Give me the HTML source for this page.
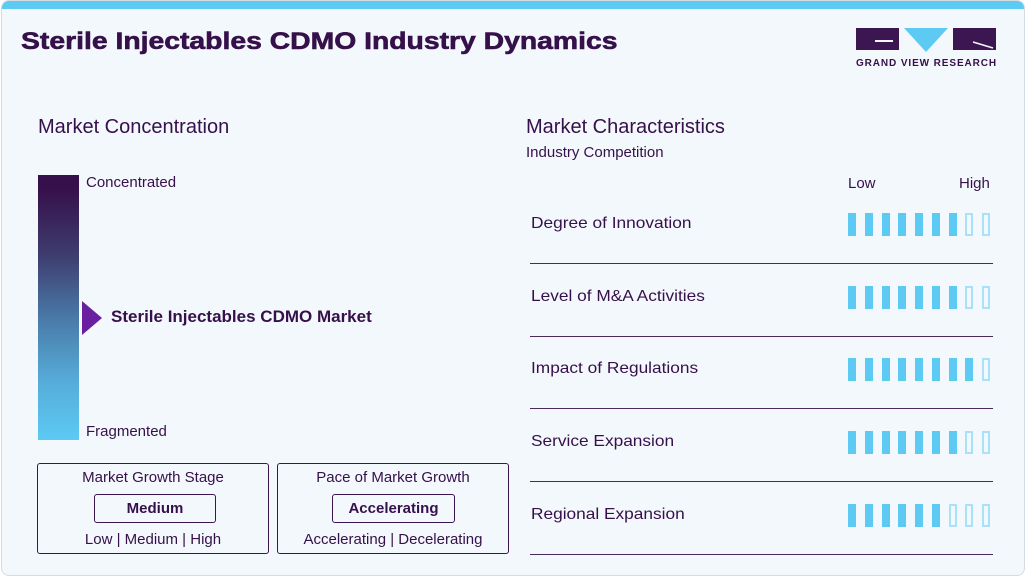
<!DOCTYPE html>
<html><head><style>
body{margin:0;width:1025px;height:576px;background:#fff;font-family:"Liberation Sans",sans-serif;overflow:hidden}
.card{position:absolute;left:1px;top:0;width:1022px;height:574px;background:#f3f8fc;border:1px solid #d5dde3;border-radius:8px;overflow:hidden}
.topbar{position:absolute;left:0;top:0;width:100%;height:8px;background:#5ccaf3}
.t{position:absolute;color:#36104a;white-space:nowrap}
.bar{position:absolute;width:8px;height:23px;box-sizing:border-box}
.f{background:#5ccaf3}
.e{border:2px solid #a9e2f8;background:#f3f8fc}
.sep{position:absolute;left:530px;width:463px;height:1px;background:#4a2a5a}
.box{position:absolute;border:1.5px solid #3b1650;border-radius:3px;box-sizing:border-box}
</style></head><body>
<div class="card"><div class="topbar"></div></div>
<div class="t" style="left:21px;top:28px;font-size:24px;font-weight:bold;color:#36104a;transform:scaleX(1.18);transform-origin:left;-webkit-text-stroke:0.6px #36104a">Sterile Injectables CDMO Industry Dynamics</div>
<!-- logo -->
<div style="position:absolute;left:856px;top:28px;width:43px;height:22px;background:#3b1650"></div>
<div style="position:absolute;left:875px;top:40px;width:18px;height:2px;background:#f3f8fc"></div>
<svg style="position:absolute;left:904px;top:28px" width="44" height="24"><polygon points="0,0 44,0 22,24" fill="#5ccaf3"/></svg>
<div style="position:absolute;left:953px;top:28px;width:43px;height:22px;background:#3b1650"></div>
<svg style="position:absolute;left:953px;top:28px" width="43" height="22"><line x1="20" y1="14" x2="40" y2="20" stroke="#f3f8fc" stroke-width="1.5"/></svg>
<div class="t" style="left:856px;top:58px;font-size:10px;font-weight:bold;letter-spacing:0.9px">GRAND VIEW RESEARCH</div>

<div class="t" style="left:38px;top:116px;font-size:20px">Market Concentration</div>
<div style="position:absolute;left:38px;top:175px;width:41px;height:265px;background:linear-gradient(#36104a 0%,#36104a 5%,#3e3c6e 30%,#4a7caa 55%,#56acd9 78%,#5ccaf3 100%)"></div>
<svg style="position:absolute;left:82px;top:301px" width="20" height="34"><polygon points="0,0 20,17 0,34" fill="#6a1fa0"/></svg>
<div class="t" style="left:86px;top:174px;font-size:15px">Concentrated</div>
<div class="t" style="left:86px;top:423px;font-size:15px">Fragmented</div>
<div class="t" style="left:111px;top:307px;font-size:17px;font-weight:bold">Sterile Injectables CDMO Market</div>

<div class="box" style="left:37px;top:463px;width:232px;height:91px"></div>
<div class="t" style="left:37px;top:469px;width:232px;text-align:center;font-size:15px">Market Growth Stage</div>
<div class="box" style="left:94px;top:494px;width:122px;height:29px"></div>
<div class="t" style="left:94px;top:500px;width:122px;text-align:center;font-size:15px;font-weight:bold">Medium</div>
<div class="t" style="left:37px;top:531px;width:232px;text-align:center;font-size:15px">Low | Medium | High</div>

<div class="box" style="left:277px;top:463px;width:232px;height:91px"></div>
<div class="t" style="left:277px;top:469px;width:232px;text-align:center;font-size:15px">Pace of Market Growth</div>
<div class="box" style="left:332px;top:494px;width:123px;height:29px"></div>
<div class="t" style="left:332px;top:500px;width:123px;text-align:center;font-size:15px;font-weight:bold">Accelerating</div>
<div class="t" style="left:277px;top:531px;width:232px;text-align:center;font-size:15px">Accelerating | Decelerating</div>

<div class="t" style="left:526px;top:116px;font-size:20px">Market Characteristics</div>
<div class="t" style="left:526px;top:144px;font-size:15px">Industry Competition</div>
<div class="t" style="left:848px;top:175px;font-size:15px">Low</div>
<div class="t" style="left:959px;top:175px;font-size:15px">High</div>

<div id="rows"></div>
<script>
var rows=[["Degree of Innovation",7],["Level of M&amp;A Activities",7],["Impact of Regulations",8],["Service Expansion",7],["Regional Expansion",6]];
var h="";
rows.forEach(function(r,i){
 var y=215+i*72.7;
 h+='<div class="t" style="left:531px;top:'+(y)+'px;font-size:16px;transform:scaleX(1.08);transform-origin:left">'+r[0]+'</div>';
 for(var k=0;k<9;k++){h+='<div class="bar '+(k<r[1]?'f':'e')+'" style="left:'+(848+k*16.75)+'px;top:'+(y-2)+'px"></div>';}
 h+='<div class="sep" style="top:'+(y+48)+'px"></div>';
});
document.getElementById("rows").innerHTML=h;
</script>
</body></html>
